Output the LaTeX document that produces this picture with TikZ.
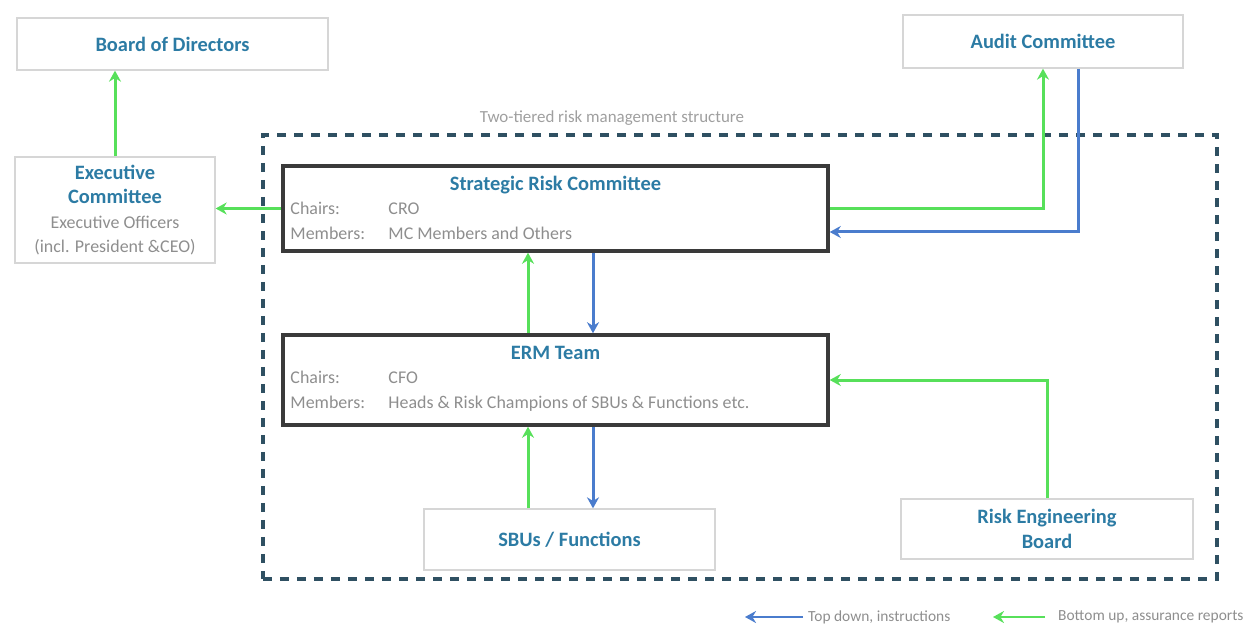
\documentclass[tikz,border=0pt]{standalone}
\usepackage{fontspec}
\setmainfont{Carlito}
\usetikzlibrary{arrows.meta,positioning}
\definecolor{head}{HTML}{2C7BA4}
\definecolor{muted}{HTML}{8E8E8E}
\definecolor{frame}{HTML}{D6D6D6}
\definecolor{rim}{HTML}{3A3A3A}
\definecolor{slate}{HTML}{2F5062}
\definecolor{upg}{HTML}{57E05A}
\definecolor{downb}{HTML}{4A7CCD}
\newcommand{\ttlfont}{\fontsize{20.5}{24.7}\selectfont\bfseries}
\newcommand{\txtfont}{\fontsize{18}{24.7}\selectfont}
\tikzset{
  plain/.style={draw=frame, line width=1.3bp, inner sep=0pt},
  thickbox/.style={draw=rim, line width=3.5bp, inner sep=0pt},
  tier/.style={draw=slate, line width=3.2bp, dash pattern=on 9bp off 8bp, inner sep=0pt},
  ttl/.style={text=head, font=\ttlfont},
  txt/.style={text=muted, font=\txtfont, inner sep=0pt},
  vgreen/.style={-{Stealth[length=11bp,width=12bp]}, line width=3bp, draw=upg},
  vblue/.style={-{Stealth[length=11bp,width=12bp]}, line width=3bp, draw=downb},
  legendtxt/.style={text=muted, font=\fontsize{15.5}{18}\selectfont, inner sep=0pt}
}
\newcommand{\CommitteeText}[4]{% box,title,chairs,members
  \node[ttl, anchor=base, inner sep=0pt] (#1title) at ([yshift=-26.5bp]#1.north) {#2};
  \node[txt, anchor=base west] (#1chairs) at ([xshift=9bp,yshift=-50bp]#1.north west) {Chairs:};
  \node[txt, anchor=base west] (#1chairsval) at ([xshift=107bp,yshift=-50bp]#1.north west) {#3};
  \node[txt, anchor=base west] (#1members) at ([xshift=9bp,yshift=-75bp]#1.north west) {Members:};
  \node[txt, anchor=base west] (#1membersval) at ([xshift=107bp,yshift=-75bp]#1.north west) {#4};
}

\begin{document}
\begin{tikzpicture}[x=1bp,y=-1bp]
  \useasboundingbox (0,0) rectangle (1256,629);

  % Outer bodies
  \node[plain, ttl, minimum width=311bp, minimum height=52bp] (bod) at (172.5,44) {Board of Directors};
  \node[plain, ttl, minimum width=280bp, minimum height=53bp] (audit) at (1043,41.5) {Audit Committee};
  \node[plain, minimum width=200bp, minimum height=106bp] (exec) at (115,210) {};
  \node[txt, align=center] (exectxt) at (exec) {{\ttlfont\color{head}Executive}\\{\ttlfont\color{head}Committee}\\Executive Officers\\(incl. President \&CEO)};

  % Two-tiered structure
  \node[tier, minimum width=954bp, minimum height=444bp] (tierframe) at (740,357) {};
  \node[txt, text=muted!85, font=\fontsize{17}{20}\selectfont] (tierlabel) at (612,118) {Two-tiered risk management structure};

  \node[thickbox, minimum width=545bp, minimum height=85bp] (src) at (555.5,208.5) {};
  \CommitteeText{src}{Strategic Risk Committee}{CRO}{MC Members and Others}
  \node[thickbox, minimum width=545bp, minimum height=90bp] (erm) at (555.5,380) {};
  \CommitteeText{erm}{ERM Team}{CFO}{Heads \& Risk Champions of SBUs \& Functions etc.}

  \node[plain, ttl, minimum width=291bp, minimum height=61bp] (sbu) at (569.5,539.5) {SBUs / Functions};
  \node[plain, ttl, align=center, minimum width=292bp, minimum height=60bp] (reb) at (1047,529) {Risk Engineering\\Board};

  % Bottom up
  \draw[vgreen] (exec.north) -- (exec.north |- bod.south);
  \draw[vgreen] (src.west) -- (src.west -| exec.east);
  \draw[vgreen] (src.east) -| (audit.south);
  \draw[vgreen] ([xshift=-27.5bp]erm.north) -- ([xshift=-27.5bp]src.south);
  \draw[vgreen] ([xshift=-27.5bp]erm.south |- sbu.north) -- ([xshift=-27.5bp]erm.south);
  \draw[vgreen] (reb.north) |- (erm.east);

  % Top down
  \draw[vblue] ([xshift=35bp]audit.south) |- ([yshift=-23.5bp]src.east);
  \draw[vblue] ([xshift=37.5bp]src.south) -- ([xshift=37.5bp]erm.north);
  \draw[vblue] ([xshift=37.5bp]erm.south) -- ([xshift=37.5bp]erm.south |- sbu.north);

  % Legend
  \node[legendtxt, anchor=west] (keydown) at (808,617) {Top down, instructions};
  \coordinate (keydowntip) at (745,617);
  \draw[vblue, line width=2.2bp] ([xshift=-5bp]keydown.west) -- (keydowntip);
  \node[legendtxt, anchor=west] (keyup) at (1058,617) {Bottom up, assurance reports};
  \coordinate (keyuptip) at (993,617);
  \draw[vgreen, line width=2.2bp] ([xshift=-13bp]keyup.west) -- (keyuptip);
\end{tikzpicture}
\end{document}
